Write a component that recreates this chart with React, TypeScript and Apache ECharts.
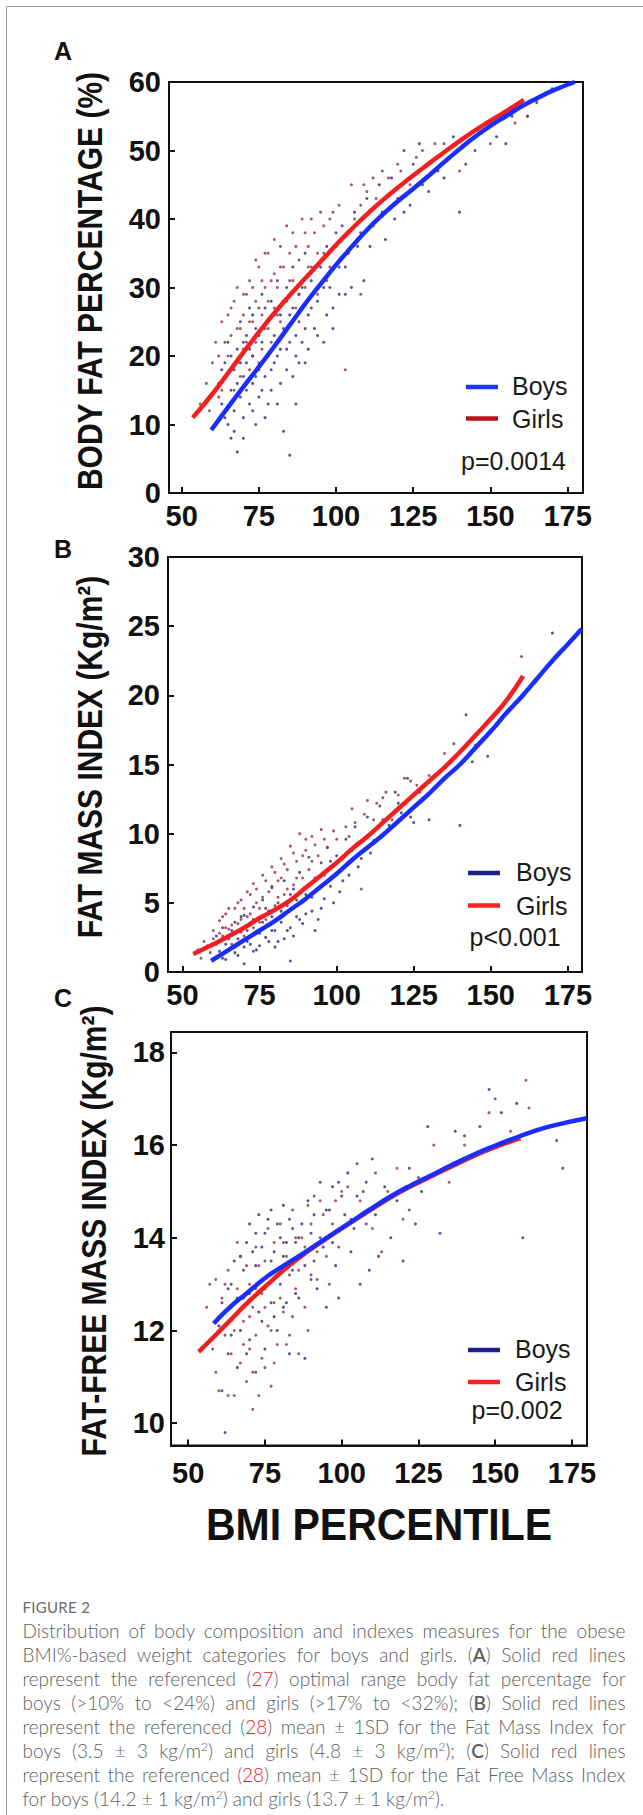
import React, { useEffect, useRef } from "react";
import * as echarts from "echarts";

// ---------- ticks / labels ----------
const xTicks = [50, 75, 100, 125, 150, 175];
const yTicksA = [0, 10, 20, 30, 40, 50, 60];
const yTicksB = [0, 5, 10, 15, 20, 25, 30];
const yTicksC = [10, 12, 14, 16, 18];

const seriesNames = ["Boys", "Girls"];
const pValues = ["p=0.0014", "p<0.001", "p=0.002"];
const panelLetters = ["A", "B", "C"];
const yTitles = ["BODY FAT PERCENTAGE (%)", "FAT MASS INDEX (Kg/m²)", "FAT-FREE MASS INDEX (Kg/m²)"];
const xTitle = "BMI PERCENTILE";

// ---------- panel A: body fat % ----------
const boysFitA = [[59.6, 9.2], [65, 12.5], [70, 15.5], [75, 18.4], [80, 21.4], [85, 24.5], [90, 27.6], [95, 30.5], [100, 33.3], [105, 35.9], [110, 38.4], [115, 40.6], [120, 42.6], [125, 44.4], [130, 46.3], [135, 48.3], [140, 50.2], [145, 52.0], [150, 53.6], [155, 55.0], [160, 56.4], [165, 57.6], [170, 58.7], [177.3, 60.0]];
const girlsFitA = [[53.6, 11.0], [60.2, 14.6], [65.5, 17.8], [70.8, 21.0], [76.1, 24.1], [81.4, 27.0], [86.7, 29.7], [92, 32.3], [97.3, 34.9], [103.9, 38.0], [110.5, 40.9], [117.1, 43.5], [123.7, 45.9], [130.4, 48.2], [137, 50.4], [143.6, 52.5], [150.2, 54.4], [156.8, 56.2], [160.8, 57.4]];
const boysDotsA = [[62, 16], [63, 13], [64, 19], [65, 10], [65, 22], [66, 8], [66, 15], [67, 18], [67, 12], [68, 21], [68, 6], [69, 14], [69, 25], [70, 17], [70, 11], [71, 19], [71, 23], [72, 13], [72, 27], [73, 16], [73, 20], [74, 10], [74, 24], [75, 18], [75, 14], [76, 22], [76, 29], [77, 17], [77, 11], [78, 25], [78, 20], [79, 15], [79, 28], [80, 23], [80, 19], [81, 31], [81, 13], [82, 26], [82, 21], [83, 9], [83, 24], [84, 30], [84, 18], [85, 5.5], [85, 22], [86, 27], [86, 33], [87, 20], [87, 13], [88, 25], [89, 30], [89, 22], [90, 35], [90, 19], [91, 26], [92, 31], [93, 24], [94, 28], [95, 33], [96, 22], [97, 36], [98, 30], [99, 27], [100, 38], [101, 33], [102, 39], [103, 29], [104, 35], [106, 41], [107, 36], [109, 31], [110, 43], [112, 39], [114, 45], [116, 37], [118, 46], [120, 43], [122, 50], [122, 41], [125, 48], [128, 45], [130, 44], [133, 47], [138, 52], [140, 41], [142, 48], [145, 50], [152, 52], [155, 51], [162, 55], [170, 59],
  [63, 18], [64, 11], [66, 20], [67, 9], [68, 16], [69, 19], [70, 8], [70, 22], [71, 15], [72, 21], [73, 12], [73, 26], [74, 17], [75, 23], [76, 15], [76, 19], [77, 27], [78, 13], [79, 18], [80, 26], [81, 20], [82, 16], [83, 28], [84, 21], [85, 26], [86, 17], [87, 23], [88, 19], [88, 29], [90, 24], [91, 21], [92, 27], [93, 33], [94, 23], [96, 30], [97, 26], [99, 24], [101, 29], [103, 33], [105, 30], [108, 38], [111, 36], [115, 41], [119, 40], [124, 42], [127, 51], [135, 46], [146, 53], [157, 55], [165, 57]];
const girlsDotsA = [[56, 13], [58, 16], [60, 19], [61, 22], [62, 14], [63, 25], [64, 17], [65, 26], [65, 20], [66, 23], [67, 15], [67, 28], [68, 19], [68, 30], [69, 24], [70, 26], [70, 21], [71, 29], [72, 18], [72, 31], [73, 25], [74, 22], [74, 28], [75, 33], [75, 19], [76, 26], [77, 30], [77, 24], [78, 35], [78, 28], [79, 22], [80, 32], [80, 27], [81, 30], [82, 36], [82, 25], [83, 33], [84, 28], [85, 35], [86, 31], [86, 38], [87, 27], [88, 34], [89, 40], [90, 30], [91, 36], [92, 33], [93, 38], [94, 29], [95, 41], [96, 35], [97, 31], [98, 40], [100, 36], [101, 42], [103, 18], [104, 38], [105, 45], [108, 29], [108, 42], [110, 44], [112, 46], [115, 47], [118, 44], [120, 48], [124, 45], [128, 50], [132, 51], [137, 49], [140, 47], [150, 51], [158, 54], [162, 55],
  [59, 12], [62, 20], [63, 15], [64, 22], [66, 18], [66, 27], [68, 24], [69, 17], [70, 29], [71, 22], [72, 25], [73, 30], [73, 20], [74, 34], [75, 27], [76, 21], [76, 31], [77, 35], [78, 24], [79, 31], [80, 37], [81, 26], [82, 33], [83, 28], [84, 39], [85, 31], [87, 36], [88, 29], [90, 38], [91, 33], [92, 40], [94, 35], [96, 39], [98, 33], [99, 41], [102, 37], [106, 40], [109, 45], [113, 43], [117, 46], [121, 47], [126, 49], [135, 51], [145, 53]];

// ---------- panel B: fat mass index ----------
const boysFitB = [[59.3, 0.8], [65, 1.6], [70, 2.3], [75, 3.0], [80, 3.7], [85, 4.5], [90, 5.3], [95, 6.2], [100, 7.1], [105, 8.1], [110, 9.0], [115, 9.9], [120, 10.9], [125, 11.9], [130, 12.9], [135, 14.0], [140, 15.0], [145, 16.2], [150, 17.4], [155, 18.7], [160, 19.9], [165, 21.2], [170, 22.5], [175, 23.7], [179.5, 24.8]];
const girlsFitB = [[53.5, 1.3], [60, 2.0], [65, 2.6], [70, 3.2], [75, 3.9], [80, 4.5], [85, 5.2], [90, 6.1], [95, 7.0], [100, 7.9], [105, 8.9], [110, 9.8], [115, 10.8], [120, 11.8], [125, 12.8], [130, 13.8], [135, 14.8], [140, 15.9], [145, 17.1], [150, 18.3], [155, 19.6], [160.5, 21.4]];
const boysDotsB = [[62, 1.5], [63, 3.2], [64, 0.9], [65, 2.4], [66, 1.8], [67, 3.6], [68, 1.2], [69, 2.9], [70, 0.6], [70, 4.1], [71, 2.2], [72, 3.4], [73, 1.5], [73, 4.7], [74, 2.8], [75, 3.9], [75, 1.9], [76, 5.2], [77, 2.5], [78, 4.4], [79, 3.0], [79, 6.1], [80, 1.8], [81, 5.0], [82, 3.6], [83, 6.6], [83, 2.4], [84, 4.8], [85, 0.8], [85, 3.2], [86, 6.0], [87, 4.0], [88, 7.2], [89, 3.5], [90, 5.6], [91, 8.3], [92, 4.4], [93, 6.8], [94, 3.8], [95, 7.9], [96, 5.3], [97, 9.0], [98, 6.2], [100, 8.4], [101, 5.8], [103, 9.6], [104, 7.0], [106, 10.5], [108, 8.2], [110, 11.2], [112, 9.5], [114, 12.0], [117, 10.6], [119, 13.0], [121, 11.5], [123, 14.0], [125, 10.8], [128, 12.6], [130, 11.0], [132, 13.4], [138, 16.5], [140, 10.6], [142, 18.6], [144, 15.2], [149, 15.6], [170, 24.5],
  [61, 2.6], [63, 1.0], [64, 2.0], [66, 3.0], [67, 1.4], [68, 2.4], [69, 4.0], [70, 1.8], [71, 3.0], [72, 2.0], [73, 3.8], [74, 1.6], [75, 2.8], [76, 3.6], [77, 4.6], [78, 2.2], [79, 4.0], [80, 3.0], [81, 2.2], [82, 4.4], [84, 3.0], [85, 5.6], [86, 2.6], [87, 5.2], [88, 3.8], [90, 4.2], [91, 6.2], [92, 5.4], [93, 3.0], [95, 4.6], [96, 7.0], [98, 8.0], [99, 5.0], [102, 6.6], [105, 8.8], [107, 7.6], [111, 8.6], [115, 11.0], [120, 12.2], [124, 11.2], [127, 13.0]];
const girlsDotsB = [[55, 1.6], [57, 2.2], [59, 1.4], [60, 3.0], [61, 2.0], [62, 3.7], [63, 2.6], [64, 4.2], [65, 3.1], [66, 2.0], [67, 4.6], [68, 3.5], [69, 5.2], [70, 2.6], [71, 4.0], [72, 5.6], [73, 3.2], [74, 6.0], [75, 4.6], [76, 7.0], [77, 3.8], [78, 5.8], [79, 7.6], [80, 4.8], [81, 6.6], [82, 8.2], [83, 5.6], [84, 7.4], [85, 9.1], [86, 6.3], [87, 8.0], [88, 10.0], [89, 6.8], [90, 8.8], [91, 7.4], [92, 9.8], [94, 8.4], [95, 10.3], [97, 9.0], [99, 10.2], [101, 8.1], [103, 10.5], [105, 11.8], [107, 9.2], [108, 6.0], [110, 12.4], [113, 12.2], [116, 13.0], [118, 11.0], [122, 14.0], [126, 13.5], [130, 14.2], [135, 15.8], [145, 16.4], [160, 22.8],
  [56, 1.0], [58, 1.9], [60, 2.4], [62, 2.8], [63, 4.0], [64, 3.2], [65, 4.6], [66, 3.4], [67, 2.8], [68, 5.0], [69, 3.8], [70, 4.6], [71, 5.8], [72, 4.2], [73, 6.4], [74, 5.0], [75, 3.6], [76, 5.4], [77, 6.6], [78, 4.4], [79, 6.2], [80, 7.2], [81, 5.4], [82, 6.8], [83, 7.8], [84, 6.0], [86, 8.6], [87, 6.8], [89, 8.4], [90, 9.6], [92, 8.0], [93, 9.2], [96, 9.6], [98, 7.6], [100, 9.6], [104, 9.8], [106, 10.8], [109, 11.4], [112, 11.0], [115, 12.6], [120, 12.8], [124, 13.8]];

// ---------- panel C: fat-free mass index ----------
const boysFitC = [[58.3, 12.15], [63.7, 12.51], [69.0, 12.8], [75.6, 13.16], [82.3, 13.45], [89.0, 13.73], [95.6, 14.02], [102.3, 14.31], [108.9, 14.6], [115.6, 14.88], [122.2, 15.12], [128.9, 15.34], [135.5, 15.56], [142.2, 15.77], [148.9, 15.96], [155.5, 16.13], [162.2, 16.29], [168.8, 16.42], [179.8, 16.58]];
const girlsFitC = [[53.4, 11.54], [58.3, 11.86], [63.7, 12.22], [69.0, 12.58], [75.6, 12.98], [82.3, 13.37], [89.0, 13.71], [95.6, 14.01], [102.3, 14.3], [108.9, 14.58], [115.6, 14.86], [122.2, 15.1], [128.9, 15.32], [135.5, 15.53], [142.2, 15.74], [148.9, 15.93], [158.2, 16.15]];
const boysDotsC = [[60, 12.1], [61, 10.7], [62, 9.8], [63, 11.5], [64, 13.0], [65, 12.3], [66, 11.2], [67, 13.6], [68, 12.7], [69, 13.9], [70, 11.8], [70, 14.3], [71, 12.9], [72, 13.4], [72, 11.1], [73, 14.5], [74, 12.2], [74, 13.8], [75, 14.1], [75, 11.6], [76, 13.2], [77, 14.6], [77, 12.6], [78, 13.7], [79, 14.3], [79, 12.0], [80, 13.0], [81, 14.7], [81, 12.5], [82, 13.9], [83, 11.5], [83, 14.4], [84, 13.3], [85, 12.8], [86, 14.0], [87, 13.6], [88, 11.4], [89, 14.8], [90, 13.1], [91, 14.5], [92, 12.9], [93, 15.2], [94, 13.8], [95, 12.5], [96, 14.6], [97, 15.1], [98, 13.4], [99, 12.7], [100, 14.9], [102, 15.4], [104, 14.2], [106, 13.0], [107, 15.0], [109, 13.3], [110, 15.7], [112, 13.6], [114, 15.1], [118, 14.8], [120, 13.5], [122, 15.5], [124, 14.3], [128, 16.4], [132, 14.1], [137, 16.3], [140, 16.2], [145, 16.4], [148, 17.2], [152, 16.7], [157, 16.9], [159, 14.0], [170, 16.1], [172, 15.5],
  [61, 12.6], [63, 12.9], [64, 11.9], [65, 13.5], [66, 12.7], [67, 12.0], [68, 13.3], [69, 11.5], [70, 12.8], [71, 13.7], [72, 14.1], [73, 12.4], [74, 13.1], [75, 12.9], [76, 14.4], [77, 13.5], [78, 12.3], [79, 13.2], [80, 14.0], [81, 13.6], [82, 12.6], [84, 14.2], [85, 13.9], [86, 12.7], [87, 14.3], [88, 13.4], [90, 14.1], [91, 13.5], [93, 14.0], [95, 14.6], [97, 13.9], [99, 15.2], [101, 14.5], [103, 13.7], [105, 14.9], [108, 15.2], [111, 14.5], [116, 14.0], [121, 15.1], [126, 15.0]];
const girlsDotsC = [[56, 12.5], [58, 11.6], [59, 13.1], [60, 10.7], [61, 12.7], [62, 11.9], [63, 13.3], [64, 11.5], [65, 10.6], [66, 12.9], [67, 11.3], [67, 13.6], [68, 12.2], [69, 10.9], [70, 13.0], [70, 11.6], [71, 10.3], [71, 12.5], [72, 13.8], [72, 11.9], [73, 10.6], [74, 12.8], [75, 11.2], [75, 13.5], [76, 12.1], [76, 14.2], [77, 10.8], [78, 12.6], [78, 13.9], [79, 11.7], [80, 14.3], [81, 12.4], [82, 13.6], [83, 11.9], [84, 14.6], [85, 12.9], [86, 11.5], [87, 14.0], [88, 12.5], [89, 14.7], [90, 13.2], [91, 14.9], [92, 13.7], [94, 14.5], [96, 13.0], [98, 14.8], [100, 15.0], [103, 14.4], [105, 15.6], [108, 14.3], [111, 15.4], [113, 13.7], [115, 15.0], [118, 15.5], [120, 14.4], [125, 15.3], [130, 16.0], [135, 15.2], [140, 16.0], [148, 16.7], [150, 17.0], [155, 16.3], [160, 17.4], [161, 16.8],
  [57, 13.0], [59, 11.1], [60, 12.3], [62, 13.0], [63, 10.6], [64, 12.5], [65, 12.0], [66, 13.9], [68, 11.7], [69, 13.4], [70, 12.3], [71, 11.1], [72, 12.9], [73, 13.4], [74, 11.4], [75, 12.5], [76, 13.0], [77, 12.0], [78, 11.3], [79, 13.3], [80, 12.7], [81, 13.9], [82, 11.7], [83, 13.2], [84, 12.3], [85, 14.0], [86, 13.3], [88, 13.8], [89, 12.0], [90, 14.3], [92, 13.1], [93, 14.8], [95, 13.6], [97, 14.3], [99, 13.8], [102, 15.1], [106, 14.8], [110, 14.2], [117, 14.9], [122, 14.6]];

// ---------- layout & styling (not data) ----------
const FONT = "'Liberation Sans', Arial, Helvetica, sans-serif";
const panels = [
  {
    grid: { left: 169, top: 82, width: 414, height: 411 },
    xMin: 45.9, xMax: 180, yMin: 0, yMax: 60, yTicks: yTicksA,
    xLabelMargin: 8, yLabelMargin: 8,
    boysDots: boysDotsA, girlsDots: girlsDotsA, boysFit: boysFitA, girlsFit: girlsFitA,
    legendBoysColor: "#1f35ff", legendGirlsColor: "#b3141c",
    legend: { lineX1: 466, lineX2: 498, boysY: 387, girlsY: 418.5, textX: 512, pX: 461, pY: 461 },
    letter: { x: 63, y: 51 }, title: { x: 90, y: 281 },
  },
  {
    grid: { left: 168, top: 557, width: 414, height: 415 },
    xMin: 45.3, xMax: 179.6, yMin: 0, yMax: 30, yTicks: yTicksB,
    xLabelMargin: 8, yLabelMargin: 8,
    boysDots: boysDotsB, girlsDots: girlsDotsB, boysFit: boysFitB, girlsFit: girlsFitB,
    legendBoysColor: "#1c1f8c", legendGirlsColor: "#ff2121",
    legend: { lineX1: 468, lineX2: 500, boysY: 873, girlsY: 905.5, textX: 516, pX: 469.5, pY: 936.5 },
    letter: { x: 63, y: 549 }, title: { x: 90, y: 757 },
  },
  {
    grid: { left: 171, top: 1032, width: 416, height: 413.5 },
    xMin: 44.4, xMax: 179.9, yMin: 9.52, yMax: 18.44, yTicks: yTicksC,
    xLabelMargin: 13, yLabelMargin: 6,
    boysDots: boysDotsC, girlsDots: girlsDotsC, boysFit: boysFitC, girlsFit: girlsFitC,
    legendBoysColor: "#1c1f8c", legendGirlsColor: "#ff2121",
    legend: { lineX1: 468, lineX2: 500, boysY: 1350, girlsY: 1382, textX: 515, pX: 471.5, pY: 1409.5 },
    letter: { x: 63, y: 998 }, title: { x: 94, y: 1231 },
  },
];

function buildOption() {
  const grid: any[] = [];
  const xAxis: any[] = [];
  const yAxis: any[] = [];
  const series: any[] = [];
  const graphic: any[] = [];

  // outer frame (top + left hairlines)
  graphic.push({ type: "line", shape: { x1: 6.5, y1: 6.5, x2: 643, y2: 6.5 }, style: { stroke: "#9a9a9a", lineWidth: 1 } });
  graphic.push({ type: "line", shape: { x1: 6.5, y1: 6.5, x2: 6.5, y2: 1815 }, style: { stroke: "#9a9a9a", lineWidth: 1 } });

  panels.forEach((p, i) => {
    grid.push({ ...p.grid, show: true, borderColor: "#111", borderWidth: 2, backgroundColor: "transparent" });
    xAxis.push({
      type: "value", gridIndex: i, min: p.xMin, max: p.xMax,
      axisLine: { show: true, onZero: false, lineStyle: { color: "#111", width: 2 } },
      axisTick: { show: true, inside: true, length: 6, customValues: xTicks, lineStyle: { color: "#111", width: 2 } },
      axisLabel: { show: true, customValues: xTicks, margin: p.xLabelMargin, color: "#111", fontSize: 29, fontWeight: "bold", fontFamily: FONT },
      splitLine: { show: false },
    });
    yAxis.push({
      type: "value", gridIndex: i, min: p.yMin, max: p.yMax,
      axisLine: { show: true, onZero: false, lineStyle: { color: "#111", width: 2 } },
      axisTick: { show: true, inside: true, length: 6, customValues: p.yTicks, lineStyle: { color: "#111", width: 2 } },
      axisLabel: { show: true, customValues: p.yTicks, margin: p.yLabelMargin, color: "#111", fontSize: 29, fontWeight: "bold", fontFamily: FONT },
      splitLine: { show: false },
    });

    series.push({
      type: "scatter", name: seriesNames[0] + " " + panelLetters[i], xAxisIndex: i, yAxisIndex: i,
      data: p.boysDots, symbolSize: 3, itemStyle: { color: "#2a2a7c" }, z: 2,
    });
    series.push({
      type: "scatter", name: seriesNames[1] + " " + panelLetters[i], xAxisIndex: i, yAxisIndex: i,
      data: p.girlsDots, symbolSize: 3, itemStyle: { color: "#93303c" }, z: 2,
    });
    series.push({
      type: "line", name: seriesNames[1] + " fit " + panelLetters[i], xAxisIndex: i, yAxisIndex: i,
      data: p.girlsFit, smooth: 0.5, showSymbol: false, symbol: "none",
      lineStyle: { color: "#f41e1e", width: 4.5 }, z: 3,
    });
    series.push({
      type: "line", name: seriesNames[0] + " fit " + panelLetters[i], xAxisIndex: i, yAxisIndex: i,
      data: p.boysFit, smooth: 0.5, showSymbol: false, symbol: "none",
      lineStyle: { color: "#1a2dff", width: 4.5 }, z: i === 2 ? 4 : 3,
    });

    // panel letter
    graphic.push({
      type: "text", x: p.letter.x, y: p.letter.y,
      style: { text: panelLetters[i], fontSize: 25, fontWeight: "bold", fontFamily: FONT, fill: "#111", align: "center", verticalAlign: "middle", textAlign: "center", textVerticalAlign: "middle" },
    });
    // y title (rotated)
    graphic.push({
      type: "text", x: p.title.x, y: p.title.y, rotation: Math.PI / 2, scaleY: 1.15,
      style: { text: yTitles[i], fontSize: 30, fontWeight: "bold", fontFamily: FONT, fill: "#111", align: "center", verticalAlign: "middle", textAlign: "center", textVerticalAlign: "middle" },
    });
    // legend
    const L = p.legend;
    graphic.push({ type: "line", shape: { x1: L.lineX1, y1: L.boysY, x2: L.lineX2, y2: L.boysY }, style: { stroke: p.legendBoysColor, lineWidth: 4.5 } });
    graphic.push({ type: "line", shape: { x1: L.lineX1, y1: L.girlsY, x2: L.lineX2, y2: L.girlsY }, style: { stroke: p.legendGirlsColor, lineWidth: 4.5 } });
    const txt = (t: string, x: number, y: number) => ({
      type: "text", x, y,
      style: { text: t, fontSize: 25, fontFamily: FONT, fill: "#1a1a1a", align: "left", verticalAlign: "middle", textAlign: "left", textVerticalAlign: "middle" },
    });
    graphic.push(txt(seriesNames[0], L.textX, L.boysY - 1));
    graphic.push(txt(seriesNames[1], L.textX, L.girlsY));
    graphic.push(txt(pValues[i], L.pX, L.pY));
  });

  // x title
  graphic.push({
    type: "text", x: 379, y: 1524, scaleY: 1.1,
    style: { text: xTitle, fontSize: 41, fontWeight: "bold", fontFamily: FONT, fill: "#111", align: "center", verticalAlign: "middle", textAlign: "center", textVerticalAlign: "middle" },
  });

  return { animation: false, backgroundColor: "#fff", grid, xAxis, yAxis, series, graphic };
}

const capFont = "Lato, 'Open Sans', 'Noto Sans', sans-serif";
const red = { color: "#e0201c" };
const sup = (t: string) => <sup style={{ fontSize: 12, lineHeight: 0, verticalAlign: "7px" }}>{t}</sup>;
const lineJ: React.CSSProperties = { textAlign: "justify", textAlignLast: "justify", height: 23.95, overflow: "visible" };
const lineL: React.CSSProperties = { textAlign: "left", height: 23.95 };

function Caption() {
  return (
    <div style={{ position: "absolute", left: 22.5, top: 1596, width: 603, fontFamily: capFont, color: "#5e5e5e", fontWeight: 300 }}>
      <div style={{ fontSize: 15, lineHeight: "22px", height: 23, color: "#6a6a6a", letterSpacing: 0.3, fontWeight: 400 }}>FIGURE 2</div>
      <div style={{ fontSize: 19, lineHeight: "23.95px" }}>
        <div style={lineJ}>Distribution of body composition and indexes measures for the obese</div>
        <div style={lineJ}>BMI%-based weight categories for boys and girls. (<b style={{ fontWeight: 600 }}>A</b>) Solid red lines</div>
        <div style={lineJ}>represent the referenced (<span style={red}>27</span>) optimal range body fat percentage for</div>
        <div style={lineJ}>boys (&gt;10% to &lt;24%) and girls (&gt;17% to &lt;32%); (<b style={{ fontWeight: 600 }}>B</b>) Solid red lines</div>
        <div style={lineJ}>represent the referenced (<span style={red}>28</span>) mean ± 1SD for the Fat Mass Index for</div>
        <div style={lineJ}>boys (3.5 ± 3 kg/m{sup("2")}) and girls (4.8 ± 3 kg/m{sup("2")}); (<b style={{ fontWeight: 600 }}>C</b>) Solid red lines</div>
        <div style={lineJ}>represent the referenced (<span style={red}>28</span>) mean ± 1SD for the Fat Free Mass Index</div>
        <div style={lineL}>for boys (14.2 ± 1 kg/m{sup("2")}) and girls (13.7 ± 1 kg/m{sup("2")}).</div>
      </div>
    </div>
  );
}

export default function App() {
  const ref = useRef<HTMLDivElement>(null);
  useEffect(() => {
    if (!ref.current) return;
    const chart = echarts.init(ref.current, null, { renderer: "svg" });
    chart.setOption(buildOption() as any);
    return () => chart.dispose();
  }, []);
  return (
    <div style={{ position: "absolute", left: 0, top: 0, width: 643, height: 1815, background: "#fff", overflow: "hidden" }}>
      <div ref={ref} style={{ position: "absolute", left: 0, top: 0, width: 643, height: 1815 }} />
      <Caption />
    </div>
  );
}
